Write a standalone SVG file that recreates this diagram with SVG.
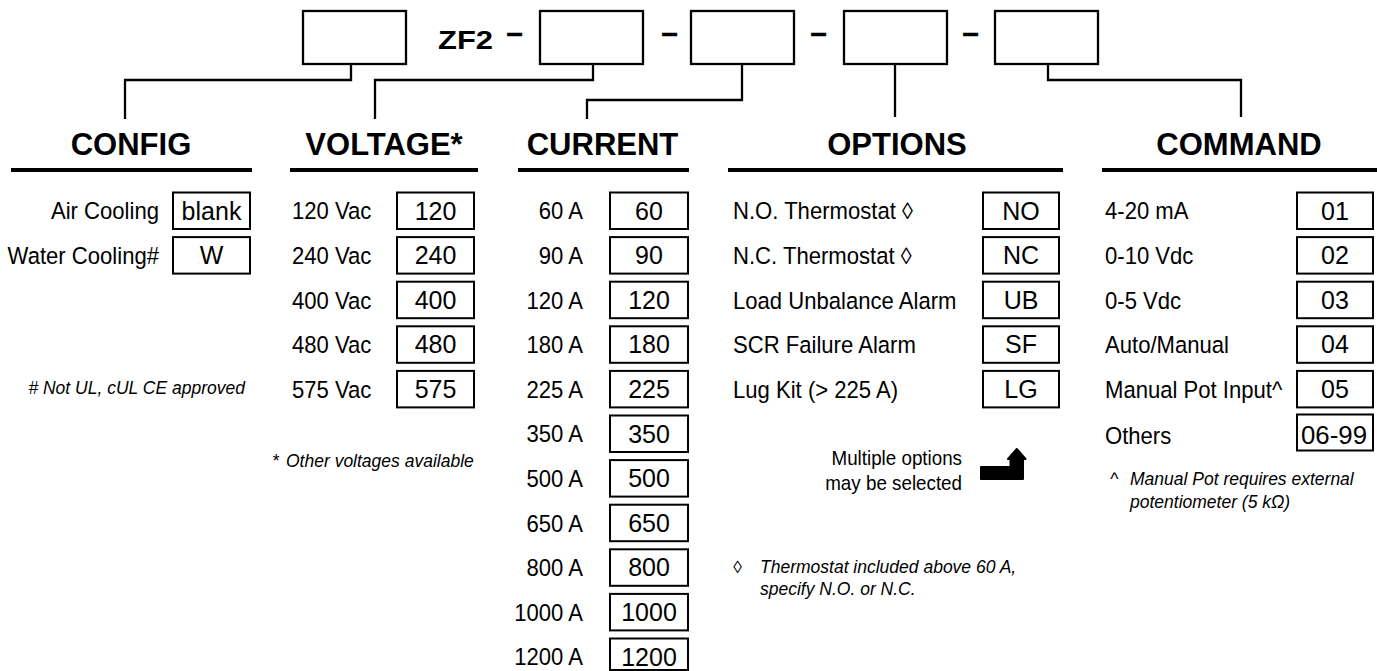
<svg xmlns="http://www.w3.org/2000/svg" width="1377" height="671" viewBox="0 0 1377 671">
<style>
text{font-family:"Liberation Sans",Arial,sans-serif;fill:#000}
.top{fill:#fff;stroke:#000;stroke-width:2.3}
.bx{fill:#fff;stroke:#000;stroke-width:2}
.bt{font-size:25px;text-anchor:middle}
.lb{font-size:23.5px}
.r{text-anchor:end}
.h{font-size:31px;font-weight:bold;text-anchor:middle}
.fn{font-size:17.5px;font-style:italic}
.ul{stroke:#000;stroke-width:4}
.cn{fill:none;stroke:#000;stroke-width:2.3}
.dash{font-size:29px;font-weight:bold;text-anchor:middle;stroke:#000;stroke-width:0.7}
</style>
<rect width="1377" height="671" fill="#fff"/>

<g id="model-code">
<rect class="top" x="303" y="11" width="103" height="53"/>
<text x="438" y="49" font-size="25" font-weight="bold" textLength="55" lengthAdjust="spacingAndGlyphs">ZF2</text>
<text class="dash" x="514.5" y="43">–</text>
<rect class="top" x="540" y="11" width="103" height="53"/>
<text class="dash" x="669.5" y="43">–</text>
<rect class="top" x="691" y="11" width="103" height="53"/>
<text class="dash" x="818.5" y="43">–</text>
<rect class="top" x="844" y="11" width="103" height="53"/>
<text class="dash" x="970.5" y="43">–</text>
<rect class="top" x="995" y="11" width="103" height="53"/>
</g>

<g id="connectors">
<path class="cn" d="M351,64 V80 H125 V119"/>
<path class="cn" d="M593,64 V80 H375 V119"/>
<path class="cn" d="M742,64 V100 H587 V119"/>
<path class="cn" d="M895,64 V117"/>
<path class="cn" d="M1048,64 V80 H1241 V117"/>
</g>

<g id="config">
<text class="h" x="131" y="154.5">CONFIG</text>
<line class="ul" x1="11" y1="170" x2="252" y2="170"/>
<g transform="translate(159 0) scale(0.94 1)">
<text class="lb r" x="0" y="219.5">Air Cooling</text>
<text class="lb r" x="0" y="264.1">Water Cooling#</text>
</g>
<rect class="bx" x="173" y="192.5" width="77" height="36.5"/>
<text class="bt" x="211.5" y="219.5" font-size="24">blank</text>
<rect class="bx" x="173" y="237.1" width="77" height="36.5"/>
<text class="bt" x="211.5" y="264.1">W</text>
<text class="fn r" x="245" y="394"># Not UL, cUL CE approved</text>
</g>

<g id="voltage">
<text class="h" x="384" y="154.5">VOLTAGE*</text>
<line class="ul" x1="290" y1="170" x2="478" y2="170"/>
<g transform="translate(292 0) scale(0.94 1)">
<text class="lb" x="0" y="219.5">120 Vac</text>
<text class="lb" x="0" y="264.1">240 Vac</text>
<text class="lb" x="0" y="308.7">400 Vac</text>
<text class="lb" x="0" y="353.3">480 Vac</text>
<text class="lb" x="0" y="397.9">575 Vac</text>
</g>
<rect class="bx" x="397" y="192.5" width="77" height="36.5"/>
<text class="bt" x="435.5" y="219.5">120</text>
<rect class="bx" x="397" y="237.1" width="77" height="36.5"/>
<text class="bt" x="435.5" y="264.1">240</text>
<rect class="bx" x="397" y="281.7" width="77" height="36.5"/>
<text class="bt" x="435.5" y="308.7">400</text>
<rect class="bx" x="397" y="326.3" width="77" height="36.5"/>
<text class="bt" x="435.5" y="353.3">480</text>
<rect class="bx" x="397" y="370.9" width="77" height="36.5"/>
<text class="bt" x="435.5" y="397.9">575</text>
<text class="fn" x="272" y="466.5" font-style="normal">*</text>
<text class="fn" x="286" y="466.5">Other voltages available</text>
</g>

<g id="current">
<text class="h" x="602.5" y="154.5">CURRENT</text>
<line class="ul" x1="518" y1="170" x2="689" y2="170"/>
<g transform="translate(583 0) scale(0.94 1)">
<text class="lb r" x="0" y="219.5">60 A</text>
<text class="lb r" x="0" y="264.1">90 A</text>
<text class="lb r" x="0" y="308.7">120 A</text>
<text class="lb r" x="0" y="353.3">180 A</text>
<text class="lb r" x="0" y="397.9">225 A</text>
<text class="lb r" x="0" y="442.5">350 A</text>
<text class="lb r" x="0" y="487.1">500 A</text>
<text class="lb r" x="0" y="531.7">650 A</text>
<text class="lb r" x="0" y="576.3">800 A</text>
<text class="lb r" x="0" y="620.9">1000 A</text>
<text class="lb r" x="0" y="665.5">1200 A</text>
</g>
<rect class="bx" x="610" y="192.5" width="78" height="36.5"/>
<text class="bt" x="649" y="219.5">60</text>
<rect class="bx" x="610" y="237.1" width="78" height="36.5"/>
<text class="bt" x="649" y="264.1">90</text>
<rect class="bx" x="610" y="281.7" width="78" height="36.5"/>
<text class="bt" x="649" y="308.7">120</text>
<rect class="bx" x="610" y="326.3" width="78" height="36.5"/>
<text class="bt" x="649" y="353.3">180</text>
<rect class="bx" x="610" y="370.9" width="78" height="36.5"/>
<text class="bt" x="649" y="397.9">225</text>
<rect class="bx" x="610" y="415.5" width="78" height="36.5"/>
<text class="bt" x="649" y="442.5">350</text>
<rect class="bx" x="610" y="460.1" width="78" height="36.5"/>
<text class="bt" x="649" y="487.1">500</text>
<rect class="bx" x="610" y="504.7" width="78" height="36.5"/>
<text class="bt" x="649" y="531.7">650</text>
<rect class="bx" x="610" y="549.3" width="78" height="36.5"/>
<text class="bt" x="649" y="576.3">800</text>
<rect class="bx" x="610" y="593.9" width="78" height="36.5"/>
<text class="bt" x="649" y="620.9">1000</text>
<rect class="bx" x="610" y="638.5" width="78" height="31.5"/>
<text class="bt" x="649" y="665.5">1200</text>
</g>

<g id="options">
<text class="h" x="897" y="154.5">OPTIONS</text>
<line class="ul" x1="728" y1="170" x2="1063" y2="170"/>
<g transform="translate(733 0) scale(0.94 1)">
<text class="lb" x="0" y="219.5">N.O. Thermostat ◊</text>
<text class="lb" x="0" y="264.1">N.C. Thermostat ◊</text>
<text class="lb" x="0" y="308.7">Load Unbalance Alarm</text>
<text class="lb" x="0" y="353.3">SCR Failure Alarm</text>
<text class="lb" x="0" y="397.9">Lug Kit (&gt; 225 A)</text>
</g>
<rect class="bx" x="983" y="192.5" width="76" height="36.5"/>
<text class="bt" x="1021" y="219.5">NO</text>
<rect class="bx" x="983" y="237.1" width="76" height="36.5"/>
<text class="bt" x="1021" y="264.1">NC</text>
<rect class="bx" x="983" y="281.7" width="76" height="36.5"/>
<text class="bt" x="1021" y="308.7">UB</text>
<rect class="bx" x="983" y="326.3" width="76" height="36.5"/>
<text class="bt" x="1021" y="353.3">SF</text>
<rect class="bx" x="983" y="370.9" width="76" height="36.5"/>
<text class="bt" x="1021" y="397.9">LG</text>
<g transform="translate(962 0) scale(0.94 1)">
<text class="r" x="0" y="465.5" font-size="20">Multiple options</text>
<text class="r" x="0" y="490.5" font-size="20">may be selected</text>
</g>
<path d="M981,467 H1010.5 V459 H1008 L1016.8,449 L1025.5,459 H1023 V479 H981 Z" fill="#000" stroke="#000" stroke-width="2" stroke-linejoin="round"/>
<text class="fn" x="733" y="573" font-style="normal">◊</text>
<text class="fn" x="760" y="573">Thermostat included above 60 A,</text>
<text class="fn" x="760" y="595">specify N.O. or N.C.</text>
</g>

<g id="command">
<text class="h" x="1239" y="154.5">COMMAND</text>
<line class="ul" x1="1102" y1="170" x2="1377" y2="170"/>
<g transform="translate(1105 0) scale(0.94 1)">
<text class="lb" x="0" y="219.5">4-20 mA</text>
<text class="lb" x="0" y="264.1">0-10 Vdc</text>
<text class="lb" x="0" y="308.7">0-5 Vdc</text>
<text class="lb" x="0" y="353.3">Auto/Manual</text>
<text class="lb" x="0" y="397.9">Manual Pot Input^</text>
<text class="lb" x="0" y="444">Others</text>
</g>
<rect class="bx" x="1297" y="192.5" width="76" height="36.5"/>
<text class="bt" x="1335" y="219.5">01</text>
<rect class="bx" x="1297" y="237.1" width="76" height="36.5"/>
<text class="bt" x="1335" y="264.1">02</text>
<rect class="bx" x="1297" y="281.7" width="76" height="36.5"/>
<text class="bt" x="1335" y="308.7">03</text>
<rect class="bx" x="1297" y="326.3" width="76" height="36.5"/>
<text class="bt" x="1335" y="353.3">04</text>
<rect class="bx" x="1297" y="370.9" width="76" height="36.5"/>
<text class="bt" x="1335" y="397.9">05</text>
<rect class="bx" x="1297" y="414.5" width="76" height="36"/>
<text class="bt" x="1334" y="443.5" font-size="26" textLength="66" lengthAdjust="spacingAndGlyphs">06-99</text>
<text class="fn" x="1110" y="485" font-style="normal">^</text>
<text class="fn" x="1130" y="485">Manual Pot requires external</text>
<text class="fn" x="1130" y="508">potentiometer (5 kΩ)</text>
</g>
</svg>
